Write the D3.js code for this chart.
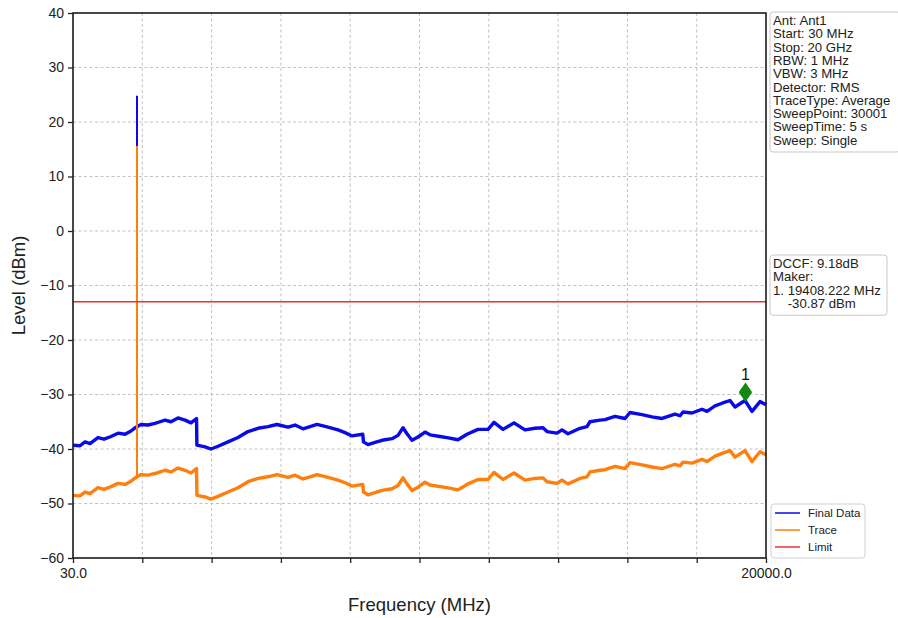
<!DOCTYPE html>
<html>
<head>
<meta charset="utf-8">
<script src="https://cdn.jsdelivr.net/npm/d3@7.9.0/dist/d3.min.js"></script>
<style>
  body { margin: 0; background: #fff; }
  svg { font-family: "Liberation Sans", Arial, sans-serif; }
</style>
</head>
<body>
<svg id="chart" width="898" height="618"></svg>
<script>
// frequency points (MHz)
const freqs = [30, 232, 376, 520, 750, 923, 1125, 1327, 1529, 1701, 1846, 1990, 2191, 2393, 2537,
  2681, 2854, 3056, 3258, 3430, 3590, 3600, 3834, 4007, 4208, 4497, 4785, 5073, 5361, 5649,
  5908, 6226, 6428, 6658, 6860, 7062, 7378, 7667, 7869, 8070, 8380, 8400, 8531, 8733, 8935,
  9223, 9396, 9540, 9655, 9799, 9972, 10174, 10318, 10606, 10808, 11125, 11384, 11701, 11989, 12162,
  12421, 12738, 13055, 13343, 13574, 13689, 13977, 14121, 14294, 14640, 14841, 14928, 15216, 15360, 15648,
  15937, 16081, 16427, 16715, 17003, 17378, 17522, 17608, 17868, 18156, 18300, 18531, 18733, 18963, 19107,
  19395, 19597, 19828, 20000];

const finalData = [-39.3, -39.4, -38.7, -39.0, -37.9, -38.2, -37.7, -37.1, -37.3, -36.7, -36.0, -35.5, -35.6, -35.3, -35.0,
  -34.7, -35.0, -34.3, -34.7, -35.2, -34.4, -39.3, -39.6, -40.0, -39.5, -38.7, -37.9, -36.8, -36.2, -35.9,
  -35.5, -36.0, -35.6, -36.3, -35.9, -35.5, -36.0, -36.5, -37.0, -37.6, -37.3, -38.7, -39.2, -38.8, -38.4,
  -38.1, -37.5, -36.1, -37.2, -38.4, -37.8, -36.9, -37.4, -37.7, -37.9, -38.3, -37.3, -36.4, -36.4, -35.1,
  -36.4, -35.2, -36.5, -36.2, -36.1, -36.8, -37.1, -36.5, -37.2, -36.2, -35.9, -35.0, -34.7, -34.6, -34.0,
  -34.4, -33.3, -33.7, -34.1, -34.4, -33.6, -33.9, -33.2, -33.4, -32.7, -33.1, -32.1, -31.6, -31.1, -32.3,
  -31.1, -33.1, -31.3, -31.9];

const traceData = [-48.5, -48.6, -47.9, -48.2, -47.1, -47.4, -46.9, -46.3, -46.5, -45.9, -45.2, -44.7, -44.8, -44.5, -44.2,
  -43.9, -44.2, -43.5, -43.9, -44.4, -43.6, -48.5, -48.8, -49.2, -48.7, -47.9, -47.1, -46.0, -45.4, -45.1,
  -44.7, -45.2, -44.8, -45.5, -45.1, -44.7, -45.2, -45.7, -46.2, -46.8, -46.5, -47.9, -48.4, -48.0, -47.6,
  -47.3, -46.7, -45.3, -46.4, -47.6, -47.0, -46.1, -46.6, -46.9, -47.1, -47.5, -46.5, -45.6, -45.6, -44.3,
  -45.6, -44.4, -45.7, -45.4, -45.3, -46.0, -46.3, -45.7, -46.4, -45.4, -45.1, -44.2, -43.9, -43.8, -43.2,
  -43.6, -42.5, -42.9, -43.3, -43.6, -42.8, -43.1, -42.4, -42.6, -41.9, -42.3, -41.3, -40.8, -40.3, -41.5,
  -40.3, -42.3, -40.5, -41.1];

// narrow spur near 1.88 GHz
const spurFreq = [1880];
const spurFinal = [24.8];
const spurTrace = [15.6];
const spurBaseFinal = [-35.8];
const spurBaseTrace = [-45.0];

const limitLevel = -13;
const markerFreq = [19408.222];
const markerLevel = [-30.87];

const yTicks = [40, 30, 20, 10, 0, -10, -20, -30, -40, -50, -60];
const xTickCount = 10;

const infoLines = ["Ant: Ant1", "Start: 30 MHz", "Stop: 20 GHz", "RBW: 1 MHz", "VBW: 3 MHz",
  "Detector: RMS", "TraceType: Average", "SweepPoint: 30001", "SweepTime: 5 s", "Sweep: Single"];
const markerLines = ["DCCF: 9.18dB", "Maker:", "1. 19408.222 MHz", "    -30.87 dBm"];
const legendNames = ["Final Data", "Trace", "Limit"];

const colBlue = "#0a0ae8", colOrange = "#ff7f0e", colRed = "#e8332a";

const svg = d3.select("#chart");
const m = { left: 73, right: 766, top: 13, bottom: 558 };

const x = d3.scaleLinear().domain([30, 20000]).range([m.left, m.right]);
const y = d3.scaleLinear().domain([-60, 40]).range([m.bottom, m.top]);

const xTicks = d3.range(xTickCount + 1).map(k => 30 + k * (20000 - 30) / xTickCount);

// grid
const grid = svg.append("g").attr("stroke", "#b4b4b4").attr("stroke-width", 0.8).attr("stroke-dasharray", "3,2.5");
grid.selectAll("line.gx").data(xTicks.slice(1, -1)).join("line")
  .attr("x1", d => x(d)).attr("x2", d => x(d)).attr("y1", m.top).attr("y2", m.bottom);
grid.selectAll("line.gy").data(yTicks.slice(1, -1)).join("line")
  .attr("x1", m.left).attr("x2", m.right).attr("y1", d => y(d)).attr("y2", d => y(d));

// traces
const line = d3.line().x(d => x(d[0])).y(d => y(d[1]));
const finalPts = freqs.map((f, i) => [f, finalData[i]]);
const tracePts = freqs.map((f, i) => [f, traceData[i]]);

svg.append("path").attr("d", line(finalPts)).attr("fill", "none")
  .attr("stroke", colBlue).attr("stroke-width", 3.4).attr("stroke-linejoin", "round");
svg.selectAll("line.spf").data(spurFreq).join("line")
  .attr("x1", d => Math.round(x(d))).attr("x2", d => Math.round(x(d)))
  .attr("y1", (d, i) => y(spurBaseFinal[i])).attr("y2", (d, i) => y(spurFinal[i]))
  .attr("stroke", colBlue).attr("stroke-width", 2);

svg.append("path").attr("d", line(tracePts)).attr("fill", "none")
  .attr("stroke", colOrange).attr("stroke-width", 3.4).attr("stroke-linejoin", "round");
svg.selectAll("line.spt").data(spurFreq).join("line")
  .attr("x1", d => Math.round(x(d))).attr("x2", d => Math.round(x(d)))
  .attr("y1", (d, i) => y(spurBaseTrace[i])).attr("y2", (d, i) => y(spurTrace[i]))
  .attr("stroke", colOrange).attr("stroke-width", 2);

// limit
svg.append("line").attr("x1", m.left).attr("x2", m.right)
  .attr("y1", y(limitLevel)).attr("y2", y(limitLevel))
  .attr("stroke", colRed).attr("stroke-width", 1.5);

// marker
svg.selectAll("path.mk").data(markerFreq).join("path")
  .attr("d", d3.symbol(d3.symbolDiamond, 70)())
  .attr("transform", (d, i) => `translate(${x(d)},${y(markerLevel[i]) - 7}) scale(1.5,1.25)`)
  .attr("fill", "#128a12");
svg.selectAll("text.mk").data(markerFreq).join("text")
  .attr("x", d => x(d)).attr("y", (d, i) => y(markerLevel[i]) - 19)
  .attr("text-anchor", "middle").attr("font-size", 16).attr("fill", "#111").text("1");

// frame
svg.append("rect").attr("x", m.left).attr("y", m.top)
  .attr("width", m.right - m.left).attr("height", m.bottom - m.top)
  .attr("fill", "none").attr("stroke", "#1a1a1a").attr("stroke-width", 1.6);

// axes
const yAxis = d3.axisLeft(y).tickValues(yTicks).tickSize(5).tickPadding(4);
const gy = svg.append("g").attr("transform", `translate(${m.left},0)`).call(yAxis);
gy.select(".domain").remove();
gy.selectAll("text").attr("font-size", 14).attr("fill", "#222").style("font-family", "Liberation Sans, Arial, sans-serif");
gy.selectAll("line").attr("stroke", "#222").attr("stroke-width", 1.3);

const xAxis = d3.axisBottom(x).tickValues(xTicks).tickSize(5).tickPadding(5)
  .tickFormat((d, i) => (i === 0 || i === xTicks.length - 1) ? d3.format(".1f")(d) : "");
const gx = svg.append("g").attr("transform", `translate(0,${m.bottom})`).call(xAxis);
gx.select(".domain").remove();
gx.selectAll("text").attr("font-size", 14).attr("fill", "#222").style("font-family", "Liberation Sans, Arial, sans-serif");
gx.selectAll("line").attr("stroke", "#222").attr("stroke-width", 1.3);

// axis titles
svg.append("text").attr("x", (m.left + m.right) / 2).attr("y", 611)
  .attr("text-anchor", "middle").attr("font-size", 18.5).attr("fill", "#222").text("Frequency (MHz)");
svg.append("text").attr("transform", `translate(25,${(m.top + m.bottom) / 2}) rotate(-90)`)
  .attr("text-anchor", "middle").attr("font-size", 18.5).attr("fill", "#222").text("Level (dBm)");

// info boxes
function infoBox(lines, x0, y0, w) {
  const lh = 13.3;
  const g = svg.append("g");
  g.append("rect").attr("x", x0).attr("y", y0).attr("width", w).attr("height", lines.length * lh + 7)
    .attr("rx", 3).attr("fill", "#fff").attr("stroke", "#c8c8c8").attr("stroke-width", 1);
  g.selectAll("text").data(lines).join("text")
    .attr("x", x0 + 3).attr("y", (d, i) => y0 + 13 + i * lh)
    .attr("font-size", 13.2).attr("fill", "#222").attr("xml:space", "preserve")
    .style("white-space", "pre").text(d => d);
}
infoBox(infoLines, 770, 12, 130);
infoBox(markerLines, 770, 255, 117);

// legend
const lg = svg.append("g");
lg.append("rect").attr("x", 771).attr("y", 504).attr("width", 94).attr("height", 54)
  .attr("rx", 3).attr("fill", "#fff").attr("stroke", "#d0d0d0");
const legendColors = [colBlue, colOrange, colRed];
legendNames.forEach((n, i) => {
  const yy = 513 + i * 17;
  lg.append("line").attr("x1", 775).attr("x2", 800).attr("y1", yy).attr("y2", yy)
    .attr("stroke", legendColors[i]).attr("stroke-width", 1.5);
  lg.append("text").attr("x", 808).attr("y", yy + 4).attr("font-size", 11.5).attr("fill", "#222").text(n);
});
</script>
</body>
</html>
